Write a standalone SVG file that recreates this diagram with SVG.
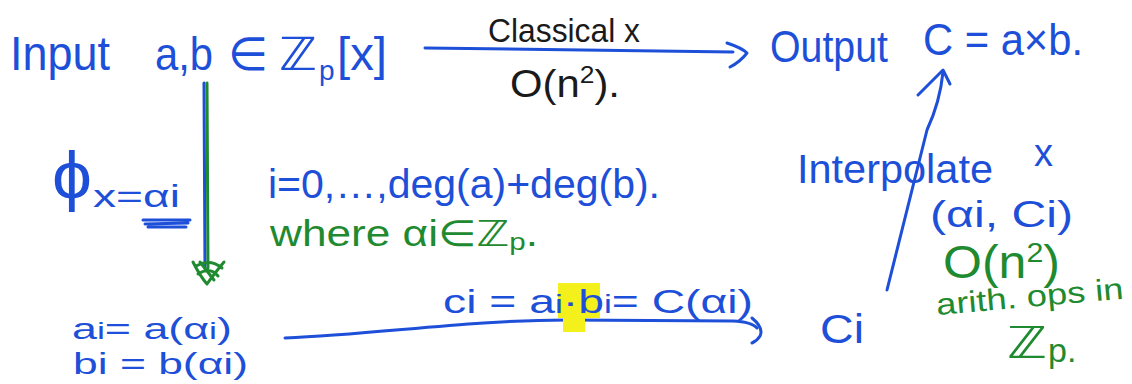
<svg xmlns="http://www.w3.org/2000/svg" width="1132" height="384" viewBox="0 0 1132 384">
<style>
text{font-family:"Liberation Sans","DejaVu Sans",sans-serif;}
.b{fill:#1d4fd8;}
.g{fill:#1f8a30;}
.k{fill:#1a1a1a;}
.lb{fill:none;stroke:#1d4fd8;stroke-width:3;stroke-linecap:round;stroke-linejoin:round;}
.lg{fill:none;stroke:#1f8a30;stroke-width:3;stroke-linecap:round;stroke-linejoin:round;}
</style>
<rect width="1132" height="384" fill="#ffffff"/>
<g id="connectors">
  <path class="lb" d="M425,48 L733,52"/>
  <path class="lb" d="M727,43 Q742,48 747,53 Q740,62 730,67"/>
  <path class="lb" d="M204,83 L205,268"/>
  <path class="lg" d="M207,83 L208,268"/>
  <path class="lg" d="M193,262 Q200,276 207,284 Q214,274 224,262 M196,266 Q210,258 222,268 M198,274 Q210,266 218,276 M200,262 L214,280"/>
  <path class="lb" d="M285,338 C380,334 470,320 567,320 L733,321 Q752,322 757,328"/>
  <path class="lb" d="M752,318 Q764,328 760,336 Q757,341 752,343"/>
  <path class="lb" d="M887,290 L927,130 Q940,102 943,72"/>
  <path class="lb" d="M918,95 L943,70 L950,84"/>
</g>
<g id="input">
  <text class="b" x="10" y="70" font-size="48" textLength="100" lengthAdjust="spacingAndGlyphs">Input</text>
  <text class="b" x="155" y="70" font-size="46" textLength="58" lengthAdjust="spacingAndGlyphs">a,b</text>
  <text class="b" x="228" y="70" font-size="46">∈</text>
  <text class="b" x="279" y="70" font-size="46" textLength="38" lengthAdjust="spacingAndGlyphs">ℤ</text>
  <text class="b" x="319" y="80" font-size="28">p</text>
  <text class="b" x="337" y="70" font-size="46" textLength="50" lengthAdjust="spacingAndGlyphs">[x]</text>
</g>
<g id="classical-label">
  <text class="k" x="488" y="42" font-size="34" textLength="152" lengthAdjust="spacingAndGlyphs">Classical x</text>
  <text class="k" x="510" y="97" font-size="38" textLength="110" lengthAdjust="spacingAndGlyphs">O(n<tspan font-size="24" dy="-14">2</tspan><tspan dy="14">).</tspan></text>
</g>
<g id="output">
  <text class="b" x="770" y="62" font-size="44" textLength="118" lengthAdjust="spacingAndGlyphs">Output</text>
  <text class="b" x="923" y="55" font-size="44" textLength="160" lengthAdjust="spacingAndGlyphs">C = a×b.</text>
</g>
<g id="evaluate-label">
  <text class="b" x="52" y="198" font-size="66" textLength="40" lengthAdjust="spacingAndGlyphs">ϕ</text>
  <text class="b" x="93" y="207" font-size="32" textLength="87" lengthAdjust="spacingAndGlyphs">x=αi</text>
  <path class="lb" d="M143,220 L190,220 M145,224 L188,223 M148,227 L186,227"/>
</g>
<g id="range-note">
  <text class="b" x="268" y="198" font-size="40" textLength="392" lengthAdjust="spacingAndGlyphs">i=0,…,deg(a)+deg(b).</text>
  <text class="g" x="270" y="246" font-size="36" textLength="268" lengthAdjust="spacingAndGlyphs">where αi∈ℤ<tspan font-size="24" dy="4">p</tspan><tspan dy="-4">.</tspan></text>
</g>
<g id="evaluations">
  <text class="b" x="72" y="339" font-size="30" textLength="160" lengthAdjust="spacingAndGlyphs">a<tspan font-size="24">i</tspan>= a(α<tspan font-size="24">i</tspan>)</text>
  <text class="b" x="73" y="374" font-size="30" textLength="175" lengthAdjust="spacingAndGlyphs">bi = b(αi)</text>
</g>
<g id="pointwise-label">
  <rect x="558" y="283" width="42" height="35" fill="#f4f01c"/>
  <rect x="563" y="314" width="22" height="18" fill="#f4f01c"/>
  <text class="b" x="443" y="313" font-size="34" textLength="310" lengthAdjust="spacingAndGlyphs">ci = a<tspan font-size="26">i</tspan>·b<tspan font-size="26">i</tspan>= C(αi)</text>
</g>
<g id="ci">
  <text class="b" x="820" y="343" font-size="40" textLength="44" lengthAdjust="spacingAndGlyphs">Ci</text>
</g>
<g id="interpolate-label">
  <text class="b" x="797" y="183" font-size="40" textLength="196" lengthAdjust="spacingAndGlyphs">Interpolate</text>
  <text class="b" x="1034" y="166" font-size="38">x</text>
  <text class="b" x="930" y="227" font-size="36" textLength="143" lengthAdjust="spacingAndGlyphs">(αi, Ci)</text>
  <text class="g" x="943" y="278" font-size="46" textLength="117" lengthAdjust="spacingAndGlyphs">O(n<tspan font-size="28" dy="-16">2</tspan><tspan dy="16">)</tspan></text>
  <text class="g" x="937" y="315" font-size="30" textLength="188" lengthAdjust="spacingAndGlyphs" transform="rotate(-5 937 315)">arith. ops in</text>
  <text class="g" x="1007" y="358" font-size="44" textLength="40" lengthAdjust="spacingAndGlyphs">ℤ</text>
  <text class="g" x="1048" y="362" font-size="34">p.</text>
</g>
</svg>
